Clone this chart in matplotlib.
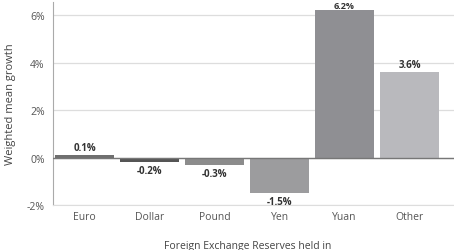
import matplotlib.pyplot as plt
import numpy as np

# data
currencies = ['Euro', 'Dollar', 'Pound', 'Yen', 'Yuan', 'Other']
growth = [0.1, -0.2, -0.3, -1.5, 6.2, 3.6]
bar_colors = ['#6f6f6f', '#555555', '#8c8c8c', '#9c9c9e', '#8f8f93', '#b9b9bd']
yticks = [-2, 0, 2, 4, 6]

plt.rcParams['font.family'] = ['Open Sans', 'DejaVu Sans']

fig = plt.figure(figsize=(4.54, 2.51), dpi=100)
ax = fig.add_axes([0.117, 0.179, 0.883, 0.809])

x = np.arange(len(currencies))
ax.bar(x, growth, width=0.9, color=bar_colors, zorder=3)

# value labels (the tallest one sits right under the top edge)
for xi, v in zip(x, growth):
    if v >= 6:
        ax.text(xi, v + 0.02, f'{v}%', ha='center', va='bottom', fontsize=6.5,
                fontweight='bold', color='#333333', zorder=4)
    elif v >= 0:
        ax.text(xi, v + 0.1, f'{v}%', ha='center', va='bottom', fontsize=7,
                fontweight='bold', color='#333333', zorder=4)
    else:
        ax.text(xi, v - 0.12, f'{v}%', ha='center', va='top', fontsize=7,
                fontweight='bold', color='#333333', zorder=4)

ax.axhline(0, color='#777777', lw=1, zorder=4)
ax.set_xlim(-0.485, 5.685)
ax.set_ylim(-2, 6.55)
ax.set_yticks(yticks)
ax.set_yticklabels([f'{t}%' for t in yticks])
ax.set_xticks(x)
ax.set_xticklabels(currencies)
ax.tick_params(axis='both', length=0, labelsize=7.5, colors='#555555', pad=4)
ax.tick_params(axis='y', pad=6)

ax.grid(axis='y', color='#dddddd', lw=0.9, zorder=0)
for s in ['top', 'right']:
    ax.spines[s].set_visible(False)
ax.spines['left'].set_color('#aaaaaa')
ax.spines['bottom'].set_color('#dddddd')

ax.set_ylabel('Weighted mean growth', fontsize=8, color='#444444', labelpad=8)
ax.set_xlabel('Foreign Exchange Reserves held in', fontsize=7.5, color='#444444')
ax.xaxis.set_label_coords(0.485, -0.17)

fig.savefig('out.png', dpi=100)
